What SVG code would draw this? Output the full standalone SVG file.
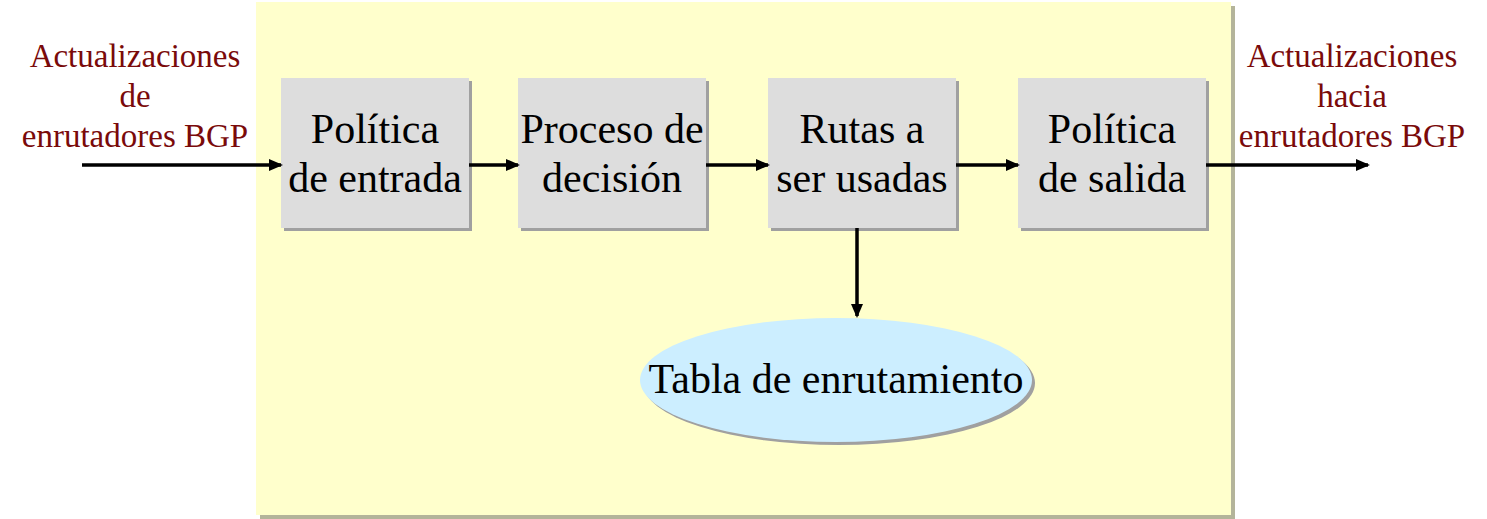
<svg xmlns="http://www.w3.org/2000/svg" width="1487" height="519" viewBox="0 0 1487 519">
<defs>
<style>
.box{fill:#DDDDDD;}
.shadow{fill:#A0A0A0;}
.t{font-family:"Liberation Serif","Times New Roman",serif;font-size:42px;fill:#000;text-anchor:middle;}
.lbl{font-family:"Liberation Serif","Times New Roman",serif;font-size:33px;fill:#7A0A0A;text-anchor:middle;}
.c{stroke:#000;stroke-width:3.5;fill:none;marker-end:url(#ah);}
</style>
<marker id="ah" markerWidth="14" markerHeight="12" refX="12" refY="6" orient="auto" markerUnits="userSpaceOnUse">
<path d="M0,0 L14,6 L0,12 Z" fill="#000"/>
</marker>
</defs>
<rect width="1487" height="519" fill="#FFFFFF"/>
<g id="panel">
<rect x="260" y="6" width="975" height="513" fill="#B4B49A"/>
<rect x="256" y="2" width="975" height="513" fill="#FFFFCC"/>
</g>
<g id="label-in">
<text class="lbl" x="135" y="67">Actualizaciones</text>
<text class="lbl" x="135" y="107">de</text>
<text class="lbl" x="135" y="147">enrutadores BGP</text>
</g>
<g id="label-out">
<text class="lbl" x="1352" y="67">Actualizaciones</text>
<text class="lbl" x="1352" y="107">hacia</text>
<text class="lbl" x="1352" y="147">enrutadores BGP</text>
</g>
<g id="n1">
<rect class="shadow" x="284" y="81" width="188" height="150"/>
<rect class="box" x="281" y="78" width="188" height="150"/>
<text class="t" x="375" y="143">Política</text>
<text class="t" x="375" y="192">de entrada</text>
</g>
<g id="n2">
<rect class="shadow" x="521" y="81" width="188" height="150"/>
<rect class="box" x="518" y="78" width="188" height="150"/>
<text class="t" x="612" y="143">Proceso de</text>
<text class="t" x="612" y="192">decisión</text>
</g>
<g id="n3">
<rect class="shadow" x="771" y="81" width="188" height="150"/>
<rect class="box" x="768" y="78" width="188" height="150"/>
<text class="t" x="862" y="143">Rutas a</text>
<text class="t" x="862" y="192">ser usadas</text>
</g>
<g id="n4">
<rect class="shadow" x="1021" y="81" width="188" height="150"/>
<rect class="box" x="1018" y="78" width="188" height="150"/>
<text class="t" x="1112" y="143">Política</text>
<text class="t" x="1112" y="192">de salida</text>
</g>
<g id="n5">
<ellipse cx="839" cy="383" rx="196" ry="62" fill="#A0A0A0"/>
<ellipse cx="836" cy="380" rx="196" ry="62" fill="#CCEEFF"/>
<text class="t" x="836" y="393">Tabla de enrutamiento</text>
</g>
<g id="connectors">
<line class="c" x1="82" y1="165" x2="281" y2="165"/>
<line class="c" x1="469" y1="165" x2="518" y2="165"/>
<line class="c" x1="706" y1="165" x2="768" y2="165"/>
<line class="c" x1="956" y1="165" x2="1018" y2="165"/>
<line class="c" x1="1206" y1="165" x2="1368" y2="165"/>
<line class="c" x1="857" y1="228" x2="857" y2="316"/>
</g>
</svg>
